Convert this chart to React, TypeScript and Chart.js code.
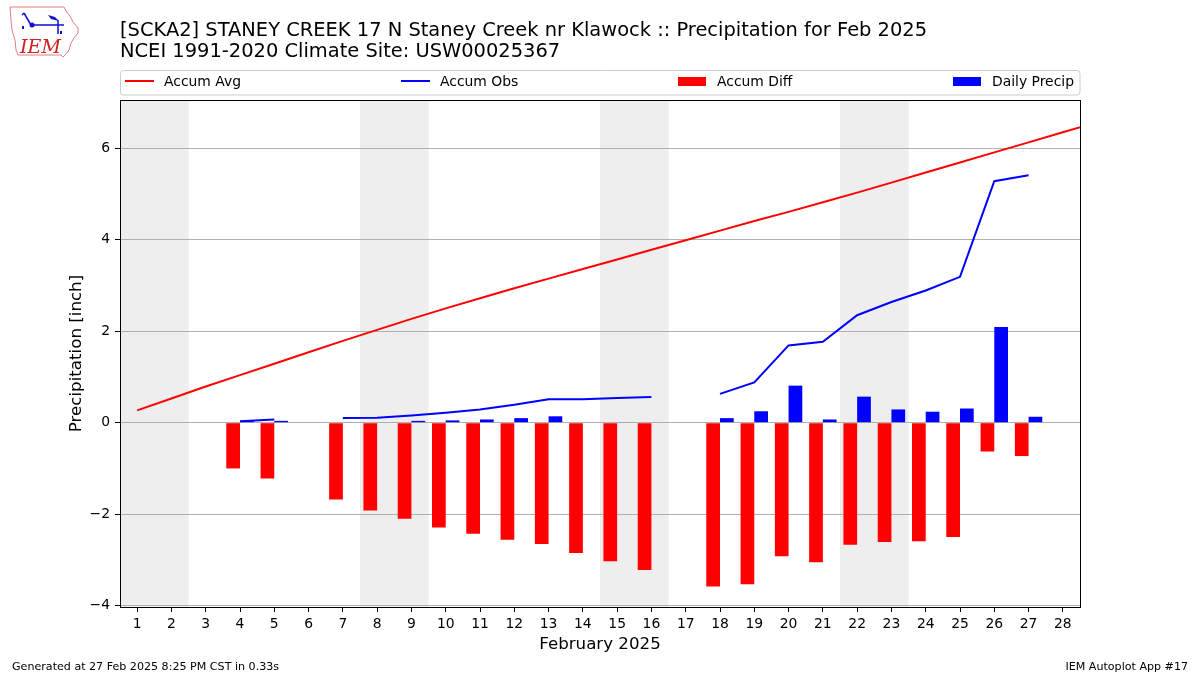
import React, { useEffect, useRef } from "react";
import { Chart, registerables } from "chart.js";

Chart.register(...registerables);

// ---- Data ----
const dayLabels = [
  "1", "2", "3", "4", "5", "6", "7", "8", "9", "10", "11", "12", "13", "14",
  "15", "16", "17", "18", "19", "20", "21", "22", "23", "24", "25", "26", "27", "28",
];

// Accumulated climatological average (Feb 1 .. Mar 1; last point runs off the plot)
const accumAvg = [
  0.27, 0.53, 0.79, 1.04, 1.29, 1.54, 1.79, 2.03, 2.27, 2.5, 2.72, 2.94, 3.15, 3.36,
  3.57, 3.78, 3.99, 4.2, 4.41, 4.61, 4.82, 5.03, 5.25, 5.47, 5.69, 5.91, 6.13, 6.35, 6.57,
];

const accumObs = [
  null, null, null, 0.03, 0.07, null, 0.1, 0.11, 0.16, 0.22, 0.29, 0.39, 0.51, 0.51,
  0.54, 0.56, null, 0.63, 0.88, 1.69, 1.77, 2.35, 2.64, 2.89, 3.19, 5.28, 5.41, null,
];

const accumDiff = [
  null, null, null, -1.0, -1.22, null, -1.68, -1.92, -2.1, -2.29, -2.43, -2.56, -2.65, -2.85,
  -3.03, -3.22, null, -3.58, -3.53, -2.92, -3.05, -2.67, -2.61, -2.59, -2.5, -0.63, -0.73, null,
];

const dailyPrecip = [
  null, null, null, 0.04, 0.04, null, 0.01, 0, 0.04, 0.05, 0.07, 0.1, 0.14, 0,
  0.01, 0, null, 0.1, 0.25, 0.81, 0.07, 0.57, 0.29, 0.24, 0.31, 2.09, 0.13, null,
];

const yTicks = [-4, -2, 0, 2, 4, 6];

// Weekend day pairs (Sat, Sun)
const weekendSpans = [
  [1, 2],
  [8, 9],
  [15, 16],
  [22, 23],
];

const titleLine1 =
  "[SCKA2] STANEY CREEK 17 N Staney Creek nr Klawock :: Precipitation for Feb 2025";
const titleLine2 = "NCEI 1991-2020 Climate Site: USW00025367";
const yAxisTitle = "Precipitation [inch]";
const xAxisTitle = "February 2025";
const footerLeft = "Generated at 27 Feb 2025 8:25 PM CST in 0.33s";
const footerRight = "IEM Autoplot App #17";

const FONT = '"DejaVu Sans", "Liberation Sans", sans-serif';

const toXY = (arr: (number | null)[]) => arr.map((v, i) => ({ x: i + 1, y: v }));

function drawLogo(ctx: CanvasRenderingContext2D) {
  ctx.save();
  ctx.textAlign = "left";
  // Iowa-like outline
  ctx.strokeStyle = "#e08080";
  ctx.lineWidth = 1;
  ctx.beginPath();
  ctx.moveTo(10, 7);
  ctx.lineTo(64, 7);
  ctx.lineTo(66, 11);
  ctx.lineTo(70, 16);
  ctx.lineTo(73, 22);
  ctx.lineTo(78, 28);
  ctx.lineTo(78, 33);
  ctx.lineTo(74, 38);
  ctx.lineTo(71, 43);
  ctx.lineTo(69, 50);
  ctx.lineTo(66, 54);
  ctx.lineTo(63, 57);
  ctx.lineTo(61, 55);
  ctx.lineTo(18, 55);
  ctx.lineTo(16, 50);
  ctx.lineTo(15, 40);
  ctx.lineTo(12, 30);
  ctx.lineTo(11, 20);
  ctx.closePath();
  ctx.stroke();
  // blue weather instrument
  ctx.strokeStyle = "#1010d0";
  ctx.fillStyle = "#1010d0";
  ctx.lineWidth = 1.5;
  ctx.beginPath();
  ctx.moveTo(31, 25);
  ctx.lineTo(64, 25);
  ctx.moveTo(31, 25);
  ctx.lineTo(24, 13);
  ctx.moveTo(24, 13);
  ctx.lineTo(22, 15);
  ctx.moveTo(58, 20);
  ctx.lineTo(58, 34);
  ctx.stroke();
  ctx.beginPath();
  ctx.arc(32, 25, 2.5, 0, Math.PI * 2);
  ctx.fill();
  ctx.beginPath();
  ctx.moveTo(48, 15);
  ctx.lineTo(55, 17);
  ctx.lineTo(59, 21);
  ctx.lineTo(51, 19);
  ctx.closePath();
  ctx.fill();
  ctx.fillRect(22, 26, 2, 3);
  ctx.fillRect(60, 31, 2, 3);
  // IEM text
  ctx.fillStyle = "#d02020";
  ctx.font = 'italic 19px "DejaVu Serif", "Liberation Serif", serif';
  ctx.textBaseline = "alphabetic";
  ctx.fillText("IEM", 20, 53);
  ctx.restore();
}

const decorPlugin = {
  id: "decor",
  beforeDraw(chart: any) {
    const { ctx, chartArea: a } = chart;
    const x = chart.scales.x;
    ctx.save();
    ctx.fillStyle = "#eeeeee";
    for (const [s, e] of weekendSpans) {
      const x0 = x.getPixelForValue(s - 0.5);
      const x1 = x.getPixelForValue(e + 0.5);
      ctx.fillRect(x0, a.top, x1 - x0, a.bottom - a.top);
    }
    ctx.restore();
  },
  afterDraw(chart: any) {
    const { ctx, chartArea: a } = chart;
    ctx.save();
    // plot frame
    ctx.strokeStyle = "#000";
    ctx.lineWidth = 1;
    ctx.strokeRect(
      Math.round(a.left) + 0.5,
      Math.round(a.top) + 0.5,
      Math.round(a.right - a.left),
      Math.round(a.bottom - a.top)
    );

    // titles
    ctx.fillStyle = "#000";
    ctx.textBaseline = "alphabetic";
    ctx.textAlign = "left";
    ctx.font = `19.44px ${FONT}`;
    ctx.fillText(titleLine1, 120, 36);
    ctx.fillText(titleLine2, 120, 57);

    // legend box
    const lx = 120.5, ly = 70.5, lw = 959.5, lh = 24.5, r = 3;
    ctx.beginPath();
    ctx.moveTo(lx + r, ly);
    ctx.lineTo(lx + lw - r, ly);
    ctx.quadraticCurveTo(lx + lw, ly, lx + lw, ly + r);
    ctx.lineTo(lx + lw, ly + lh - r);
    ctx.quadraticCurveTo(lx + lw, ly + lh, lx + lw - r, ly + lh);
    ctx.lineTo(lx + r, ly + lh);
    ctx.quadraticCurveTo(lx, ly + lh, lx, ly + lh - r);
    ctx.lineTo(lx, ly + r);
    ctx.quadraticCurveTo(lx, ly, lx + r, ly);
    ctx.closePath();
    ctx.fillStyle = "rgba(255,255,255,0.8)";
    ctx.fill();
    ctx.strokeStyle = "#cccccc";
    ctx.stroke();

    const ds = chart.data.datasets;
    const items = [
      { x: 125, kind: "line", color: ds[0].borderColor, label: ds[0].label },
      { x: 401, kind: "line", color: ds[1].borderColor, label: ds[1].label },
      { x: 678, kind: "rect", color: ds[2].backgroundColor, label: ds[2].label },
      { x: 953, kind: "rect", color: ds[3].backgroundColor, label: ds[3].label },
    ];
    ctx.font = `13.9px ${FONT}`;
    for (const it of items) {
      if (it.kind === "line") {
        ctx.strokeStyle = it.color;
        ctx.lineWidth = 2;
        ctx.beginPath();
        ctx.moveTo(it.x, 81);
        ctx.lineTo(it.x + 29, 81);
        ctx.stroke();
      } else {
        ctx.fillStyle = it.color;
        ctx.fillRect(it.x, 77, 28, 9);
      }
      ctx.fillStyle = "#000";
      ctx.fillText(it.label, it.x + 39, 86);
    }

    // axis titles
    ctx.font = `16.67px ${FONT}`;
    ctx.textAlign = "center";
    ctx.fillText(xAxisTitle, (a.left + a.right) / 2, 649);
    ctx.save();
    ctx.translate(81, (a.top + a.bottom) / 2);
    ctx.rotate(-Math.PI / 2);
    ctx.fillText(yAxisTitle, 0, 0);
    ctx.restore();

    // footer
    ctx.font = `11.1px ${FONT}`;
    ctx.textAlign = "left";
    ctx.fillText(footerLeft, 12, 670);
    ctx.textAlign = "right";
    ctx.fillText(footerRight, 1188, 670);

    drawLogo(ctx);
    ctx.restore();
  },
};

export default function App() {
  const canvasRef = useRef<HTMLCanvasElement | null>(null);

  useEffect(() => {
    const canvas = canvasRef.current;
    if (!canvas) return;
    Chart.defaults.font.family = FONT;
    const chart = new Chart(canvas, {
      type: "bar",
      data: {
        datasets: [
          {
            type: "line",
            label: "Accum Avg",
            data: toXY(accumAvg),
            borderColor: "#ff0000",
            backgroundColor: "#ff0000",
            borderWidth: 2,
            pointRadius: 0,
            clip: 0,
          },
          {
            type: "line",
            label: "Accum Obs",
            data: toXY(accumObs),
            borderColor: "#0000ff",
            backgroundColor: "#0000ff",
            borderWidth: 2,
            pointRadius: 0,
            spanGaps: false,
            clip: 0,
          },
          {
            type: "bar",
            label: "Accum Diff",
            data: toXY(accumDiff),
            backgroundColor: "#ff0000",
            categoryPercentage: 0.8,
            barPercentage: 1.0,
            borderWidth: 0,
          },
          {
            type: "bar",
            label: "Daily Precip",
            data: toXY(dailyPrecip),
            backgroundColor: "#0000ff",
            categoryPercentage: 0.8,
            barPercentage: 1.0,
            borderWidth: 0,
          },
        ],
      } as any,
      options: {
        responsive: false,
        animation: false,
        devicePixelRatio: 1,
        layout: { padding: { top: 100, right: 120, left: 0, bottom: 0 } },
        plugins: {
          legend: { display: false },
          title: { display: false },
          tooltip: { enabled: false },
        },
        scales: {
          x: {
            type: "linear",
            min: 0.5,
            max: 28.5,
            offset: false,
            afterBuildTicks: (s: any) => {
              s.ticks = dayLabels.map((_, i) => ({ value: i + 1 }));
            },
            afterFit: (s: any) => {
              s.height = 68;
            },
            ticks: {
              autoSkip: false,
              maxRotation: 0,
              padding: 4,
              color: "#000",
              font: { family: FONT, size: 13.9 },
              callback: (v: any) => dayLabels[Math.round(v) - 1] ?? "",
            },
            grid: {
              offset: false,
              drawOnChartArea: false,
              drawTicks: true,
              tickLength: 5,
              tickColor: "#000",
            },
            border: { display: false },
          },
          y: {
            type: "linear",
            min: -4.03,
            max: 7.056,
            afterBuildTicks: (s: any) => {
              s.ticks = yTicks.map((v) => ({ value: v }));
            },
            afterFit: (s: any) => {
              s.width = 120;
            },
            ticks: {
              padding: 5,
              color: "#000",
              font: { family: FONT, size: 13.9 },
              callback: (v: any) => (v < 0 ? "\u2212" + Math.abs(v) : String(v)),
            },
            grid: {
              color: "#b0b0b0",
              lineWidth: 1,
              drawTicks: true,
              tickLength: 5,
              tickColor: "#000",
            },
            border: { display: false },
          },
        },
      } as any,
      plugins: [decorPlugin],
    });
    return () => chart.destroy();
  }, []);

  return (
    <div style={{ position: "absolute", left: 0, top: 0, width: 1200, height: 675, background: "#fff" }}>
      <canvas ref={canvasRef} width={1200} height={675} style={{ display: "block" }} />
    </div>
  );
}
